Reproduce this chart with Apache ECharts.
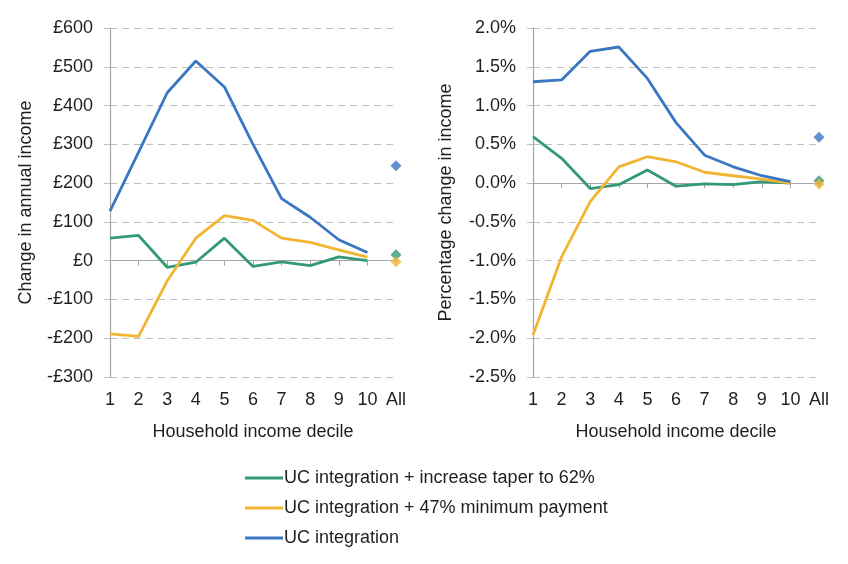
<!DOCTYPE html>
<html>
<head>
<meta charset="utf-8">
<script src="https://cdn.jsdelivr.net/npm/echarts@6/dist/echarts.min.js"></script>
<style>html,body{margin:0;padding:0;background:#fff}#c{width:848px;height:564px}</style>
</head>
<body>
<div id="c"></div>
<script>
const categories = ['1','2','3','4','5','6','7','8','9','10','All'];
const seriesNames = ['UC integration + increase taper to 62%','UC integration + 47% minimum payment','UC integration'];
const colors = ['#34997A','#F2B531','#3A77C2'];

// Left panel: change in annual income (£), deciles 1-10
const poundsTaper = [58, 65, -17, -4, 58, -15, -3, -13, 10, 0];
const poundsMinPay = [-189, -195, -52, 58, 116, 104, 58, 47, 28, 9];
const poundsUC = [128, 280, 433, 515, 448, 300, 160, 112, 54, 21];
const poundsAll = [15, -3, 245];

// Right panel: percentage change in income, deciles 1-10
const pctTaper = [0.60, 0.32, -0.07, -0.02, 0.17, -0.04, -0.01, -0.02, 0.02, 0.00];
const pctMinPay = [-1.96, -0.95, -0.24, 0.21, 0.34, 0.275, 0.14, 0.095, 0.05, 0.00];
const pctUC = [1.307, 1.33, 1.70, 1.755, 1.35, 0.78, 0.36, 0.21, 0.095, 0.02];
const pctAll = [0.03, -0.01, 0.59];

const leftTicks = {min: -300, max: 600, interval: 100};
const rightTicks = {min: -2.5, max: 2.0, interval: 0.5};

const font = 'Liberation Sans, Arial, sans-serif';
const txt = '#1f1f1f';
const fs = 18;

function poundFmt(v){ return (v < 0 ? '-£' : '£') + Math.abs(v); }
function pctFmt(v){ return v.toFixed(1) + '%'; }

function grid(left){ return {left: left, top: 28, width: 286, height: 349}; }

function xAxes(gi){
  return [
    {type:'category', gridIndex:gi, data:categories, boundaryGap:false,
     axisLine:{onZero:true, lineStyle:{color:'#a6a6a6', width:1.2}},
     axisTick:{show:true, length:5, lineStyle:{color:'#a6a6a6'}},
     axisLabel:{show:false}, splitLine:{show:false}},
    {type:'category', gridIndex:gi, data:categories, boundaryGap:false, position:'bottom',
     axisLine:{show:false, onZero:false}, axisTick:{show:false},
     axisLabel:{show:true, color:txt, fontSize:fs, fontFamily:font, margin:14},
     name:'Household income decile', nameLocation:'middle', nameGap:46,
     nameTextStyle:{color:txt, fontSize:fs, fontFamily:font}}
  ];
}
function yAxis(gi, t, fmt, name, gap){
  return {type:'value', gridIndex:gi, min:t.min, max:t.max, interval:t.interval,
    axisLine:{show:true, lineStyle:{color:'#a6a6a6', width:1.2}},
    axisTick:{show:true, length:6, lineStyle:{color:'#bfbfbf'}},
    axisLabel:{color:txt, fontSize:fs, fontFamily:font, formatter:fmt, margin:17},
    splitLine:{show:true, lineStyle:{color:'#bfbfbf', type:[7,5], width:1.2}},
    name:name, nameLocation:'middle', nameGap:gap, nameRotate:90,
    nameTextStyle:{color:txt, fontSize:fs, fontFamily:font}};
}

const lineSets = [[poundsTaper, poundsMinPay, poundsUC],[pctTaper, pctMinPay, pctUC]];
const allSets = [poundsAll, pctAll];
const series = [];
const order = [2,1,0];
[0,1].forEach(function(p){
  order.forEach(function(i){
    series.push({type:'line', name:seriesNames[i], xAxisIndex:p*2, yAxisIndex:p,
      data: lineSets[p][i].concat(['-']), showSymbol:false, symbol:'none',
      lineStyle:{color:colors[i], width:2.8}, itemStyle:{color:colors[i]}, z:3+i});
  });
  order.forEach(function(i){
    series.push({type:'scatter', xAxisIndex:p*2, yAxisIndex:p, symbol:'diamond', symbolSize:11,
      data:[['All', allSets[p][i]]], itemStyle:{color:colors[i]}, z:5+i});
  });
});

const chart = echarts.init(document.getElementById('c'), null, {renderer:'canvas'});
chart.setOption({
  backgroundColor:'#fff',
  animation:false,
  grid:[grid(110), grid(533)],
  xAxis: xAxes(0).concat(xAxes(1)),
  yAxis:[yAxis(0, leftTicks, poundFmt, 'Change in annual income', 75),
         yAxis(1, rightTicks, pctFmt, 'Percentage change in income', 78)],
  legend:{orient:'vertical', left:240, top:464, itemGap:12, itemWidth:38, itemHeight:3,
    icon:'rect', data:seriesNames,
    textStyle:{color:txt, fontSize:fs, fontFamily:font, padding:[0,0,0,-4]}},
  series: series
});
</script>
</body>
</html>
